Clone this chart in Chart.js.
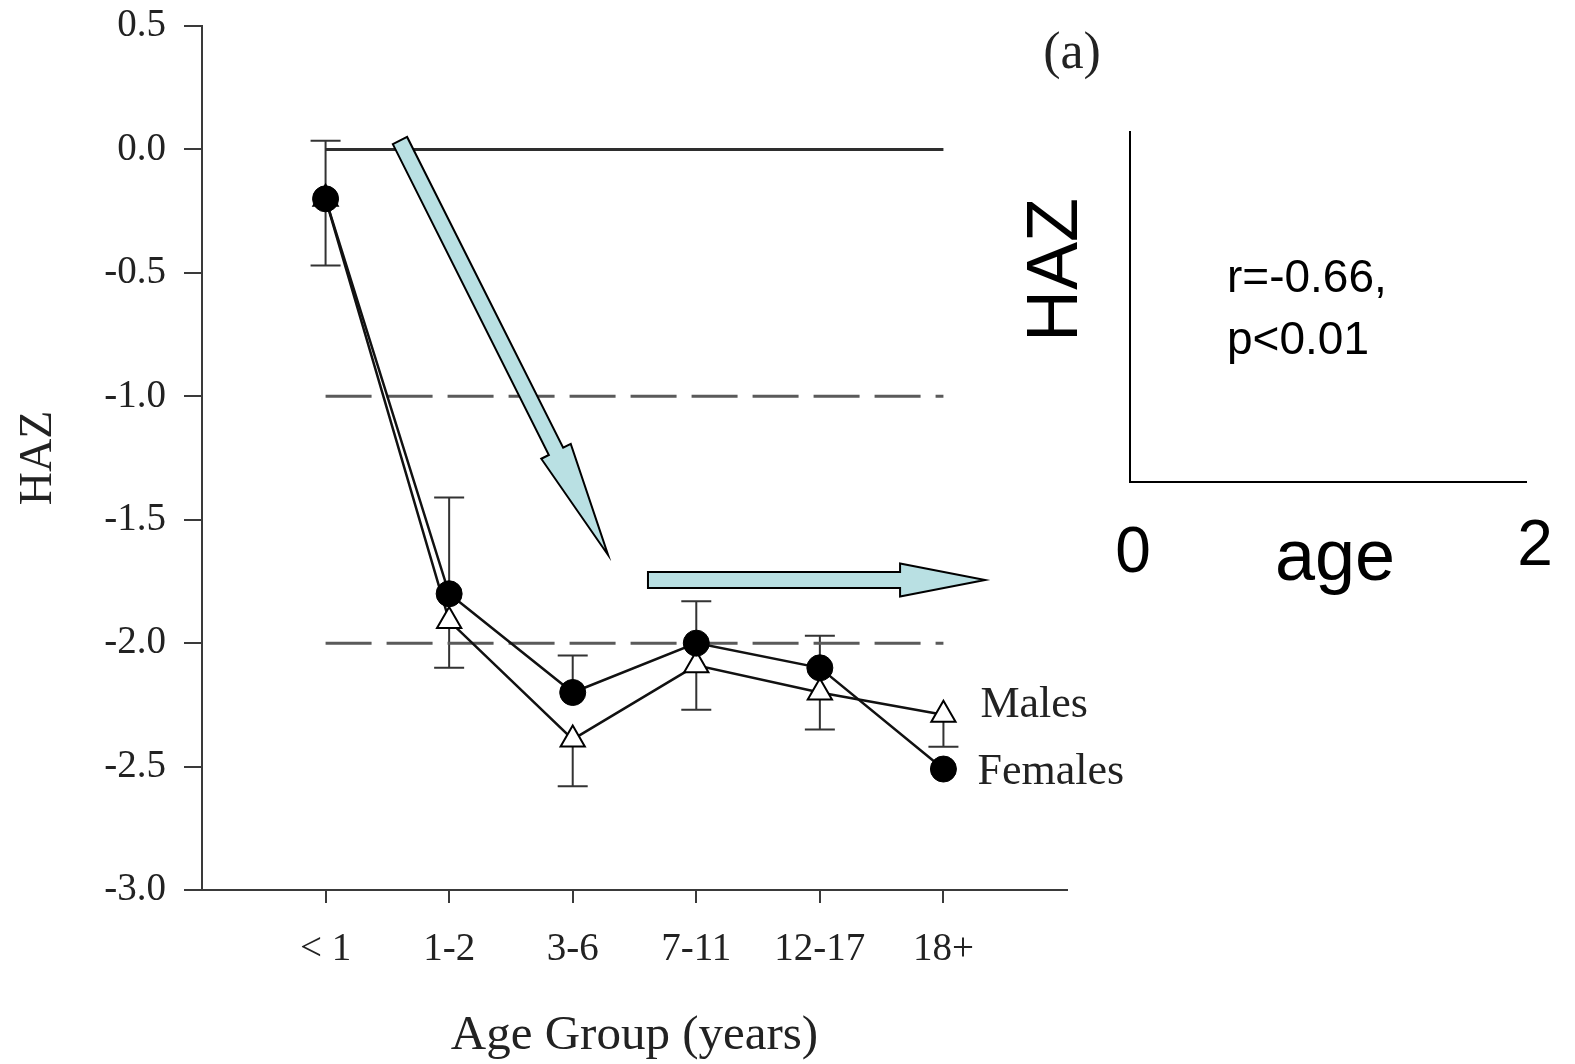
<!DOCTYPE html>
<html lang="en">
<head>
    <meta charset="UTF-8">
    <title>HAZ by Age Group</title>
    <script src="https://cdn.jsdelivr.net/npm/chart.js"></script>
    <style>
        html, body { margin: 0; padding: 0; background: #fff; }
        canvas { display: block; }
    </style>
</head>
<body>
    <canvas id="hazChart" width="1575" height="1064"></canvas>

    <script>
        // data
        const ageGroups = ['< 1', '1-2', '3-6', '7-11', '12-17', '18+'];
        const femalesHAZ = [-0.20, -1.80, -2.20, -2.00, -2.10, -2.51];
        const malesHAZ = [-0.20, -1.91, -2.39, -2.09, -2.20, -2.29];
        // error bars: females drawn upwards, males downwards
        const femalesUpper = [0.035, -1.41, -2.05, -1.83, -1.97, null];
        const malesLower = [-0.47, -2.10, -2.58, -2.27, -2.35, -2.42];
        // reference levels (0 solid, -1 / -2 dashed)
        const refLevels = [0, -1, -2];

        // arrows drawn on top, in data units [x, y]
        const arrowNotes = [
            { from: [0.602, 0.036], to: [2.286, -1.643], head: 116 },
            { from: [2.609, -1.744], to: [5.337, -1.744], head: 85 }
        ];

        const serif = '"Liberation Serif", "Times New Roman", serif';
        const sans = '"Liberation Sans", Arial, sans-serif';
        const axisColor = '#3a3a3a';

        const toXY = arr => arr.map((v, i) => ({ x: i, y: v }));

        const refSets = refLevels.map(lvl => ({
            data: [{ x: 0, y: lvl }, { x: ageGroups.length - 1, y: lvl }],
            borderColor: lvl === 0 ? '#2e2e2e' : '#5a5a5a',
            borderWidth: 3,
            borderDash: lvl === 0 ? [] : [46, 15],
            pointRadius: 0,
            order: 10
        }));

        const errorBars = {
            id: 'errorBars',
            beforeDatasetsDraw(chart) {
                const { ctx, scales: { x, y } } = chart;
                ctx.save();
                ctx.strokeStyle = '#333';
                ctx.lineWidth = 2;
                const bar = (i, from, to) => {
                    if (to === null) return;
                    const px = x.getPixelForValue(i);
                    const y0 = y.getPixelForValue(from);
                    const y1 = y.getPixelForValue(to);
                    ctx.beginPath();
                    ctx.moveTo(px, y0);
                    ctx.lineTo(px, y1);
                    ctx.moveTo(px - 15, y1);
                    ctx.lineTo(px + 15, y1);
                    ctx.stroke();
                };
                ageGroups.forEach((_, i) => {
                    bar(i, femalesHAZ[i], femalesUpper[i]);
                    bar(i, malesHAZ[i], malesLower[i]);
                });
                ctx.restore();
            }
        };

        const notes = {
            id: 'notes',
            afterDraw(chart) {
                const { ctx, scales: { x, y }, chartArea } = chart;
                ctx.save();

                // series labels at the right end
                const last = ageGroups.length - 1;
                ctx.fillStyle = '#222';
                ctx.font = '44px ' + serif;
                ctx.textAlign = 'left';
                ctx.textBaseline = 'middle';
                ctx.fillText('Males', x.getPixelForValue(last) + 37, y.getPixelForValue(malesHAZ[last]) - 9);
                ctx.fillText('Females', x.getPixelForValue(last) + 34, y.getPixelForValue(femalesHAZ[last]) + 3);

                // axis titles
                ctx.textAlign = 'center';
                ctx.font = '49px ' + serif;
                ctx.fillText('Age Group (years)', (chartArea.left + chartArea.right) / 2, 1036);
                ctx.save();
                ctx.translate(39, (chartArea.top + chartArea.bottom) / 2);
                ctx.rotate(-Math.PI / 2);
                ctx.font = '46px ' + serif;
                ctx.fillText('HAZ', 0, 0);
                ctx.restore();

                ctx.font = '52px ' + serif;
                ctx.fillText('(a)', 1072, 54);

                // arrows
                ctx.fillStyle = '#b9e0e3';
                ctx.strokeStyle = '#000';
                ctx.lineWidth = 2;
                ctx.lineJoin = 'miter';
                arrowNotes.forEach(a => {
                    const tx = x.getPixelForValue(a.from[0]), ty = y.getPixelForValue(a.from[1]);
                    const px = x.getPixelForValue(a.to[0]), py = y.getPixelForValue(a.to[1]);
                    const len = Math.hypot(px - tx, py - ty);
                    const ux = (px - tx) / len, uy = (py - ty) / len;
                    const nx = -uy, ny = ux;
                    const w = 8, hw = 16.5;
                    const bx = px - ux * a.head, by = py - uy * a.head;
                    ctx.beginPath();
                    ctx.moveTo(tx + nx * w, ty + ny * w);
                    ctx.lineTo(bx + nx * w, by + ny * w);
                    ctx.lineTo(bx + nx * hw, by + ny * hw);
                    ctx.lineTo(px, py);
                    ctx.lineTo(bx - nx * hw, by - ny * hw);
                    ctx.lineTo(bx - nx * w, by - ny * w);
                    ctx.lineTo(tx - nx * w, ty - ny * w);
                    ctx.closePath();
                    ctx.fill();
                    ctx.stroke();
                });

                // inset sketch
                ctx.strokeStyle = '#000';
                ctx.lineWidth = 2;
                ctx.beginPath();
                ctx.moveTo(1130, 131);
                ctx.lineTo(1130, 482);
                ctx.lineTo(1527, 482);
                ctx.stroke();

                ctx.fillStyle = '#000';
                ctx.save();
                ctx.translate(1057, 270);
                ctx.rotate(-Math.PI / 2);
                ctx.font = '72px ' + sans;
                ctx.textAlign = 'center';
                ctx.textBaseline = 'middle';
                ctx.fillText('HAZ', 0, 0);
                ctx.restore();

                ctx.textBaseline = 'alphabetic';
                ctx.textAlign = 'left';
                ctx.font = '46px ' + sans;
                ctx.fillText('r=-0.66,', 1227, 292);
                ctx.fillText('p<0.01', 1227, 354);

                ctx.font = '64px ' + sans;
                ctx.textAlign = 'center';
                ctx.fillText('0', 1133, 572);
                ctx.fillText('2', 1535, 565);
                ctx.font = '72px ' + sans;
                ctx.fillText('age', 1335, 580);

                ctx.restore();
            }
        };

        new Chart(document.getElementById('hazChart'), {
            type: 'line',
            data: {
                datasets: [
                    {
                        label: 'Females',
                        data: toXY(femalesHAZ),
                        borderColor: '#111',
                        borderWidth: 2.5,
                        pointStyle: 'circle',
                        pointRadius: 13,
                        pointBackgroundColor: '#000',
                        pointBorderColor: '#000',
                        pointBorderWidth: 1,
                        tension: 0,
                        order: 1
                    },
                    {
                        label: 'Males',
                        data: toXY(malesHAZ),
                        borderColor: '#111',
                        borderWidth: 2.5,
                        pointStyle: 'triangle',
                        pointRadius: 14,
                        pointBackgroundColor: '#fff',
                        pointBorderColor: '#000',
                        pointBorderWidth: 2,
                        tension: 0,
                        order: 2
                    },
                    ...refSets
                ]
            },
            options: {
                responsive: false,
                animation: false,
                devicePixelRatio: 1,
                layout: { padding: { left: 0, top: 26, right: 508, bottom: 0 } },
                plugins: {
                    legend: { display: false },
                    tooltip: { enabled: false }
                },
                scales: {
                    x: {
                        type: 'linear',
                        min: -1,
                        max: 6,
                        afterFit: s => { s.height = 174; s.paddingLeft = 0; s.paddingRight = 0; },
                        afterBuildTicks: s => { s.ticks = ageGroups.map((_, i) => ({ value: i })); },
                        ticks: {
                            callback: v => ageGroups[v],
                            font: { family: serif, size: 39 },
                            color: '#222',
                            padding: 23,
                            maxRotation: 0,
                            autoSkip: false
                        },
                        grid: { drawOnChartArea: false, tickLength: 13, color: axisColor, lineWidth: 2 },
                        border: { color: axisColor, width: 2 }
                    },
                    y: {
                        min: -3,
                        max: 0.5,
                        afterFit: s => { s.width = 202; s.paddingTop = 0; s.paddingBottom = 0; },
                        ticks: {
                            stepSize: 0.5,
                            callback: v => v.toFixed(1),
                            font: { family: serif, size: 39 },
                            color: '#222',
                            padding: 18
                        },
                        grid: { drawOnChartArea: false, tickLength: 18, color: axisColor, lineWidth: 2 },
                        border: { color: axisColor, width: 2 }
                    }
                }
            },
            plugins: [errorBars, notes]
        });
    </script>
</body>
</html>
